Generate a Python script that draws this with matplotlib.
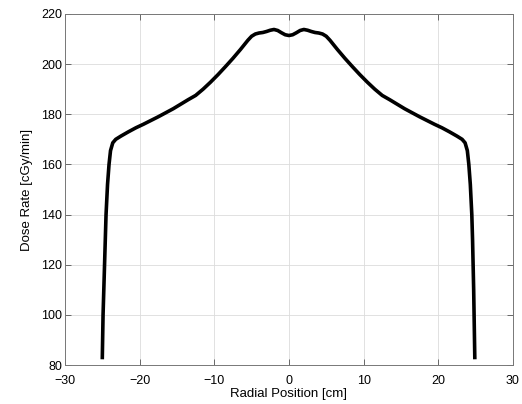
import matplotlib
matplotlib.use("Agg")
import matplotlib.pyplot as plt

plt.rcParams["font.family"] = ["Liberation Sans", "DejaVu Sans"]

# radial dose profile
radial_cm = [-25.0, -24.9, -24.7, -24.5, -24.3, -24.1, -23.9, -23.6, -23.2, -22.5,
             -21.5, -20.5, -19.5, -18.5, -17.5, -16.5, -15.5, -14.5, -13.5, -12.5,
             -11.5, -10.5, -9.5, -8.5, -7.5, -6.5, -5.5, -5.0, -4.5, -4.0,
             -3.5, -3.0, -2.5, -2.0, -1.5, -1.0, -0.5, 0.0,
             0.5, 1.0, 1.5, 2.0, 2.5, 3.0, 3.5, 4.0, 4.5, 5.0,
             5.5, 6.5, 7.5, 8.5, 9.5, 10.5, 11.5, 12.5, 13.5, 14.5,
             15.5, 16.5, 17.5, 18.5, 19.5, 20.5, 21.5, 22.5, 23.2, 23.6,
             23.9, 24.1, 24.3, 24.5, 24.6, 24.75, 24.9]
dose_rate = [83.0, 100.0, 120.0, 140.0, 152.0, 160.0, 165.5, 168.6, 170.0, 171.3,
             173.0, 174.6, 176.0, 177.5, 179.0, 180.6, 182.2, 184.0, 185.8, 187.5,
             190.0, 192.8, 195.8, 199.0, 202.3, 205.8, 209.5, 211.1, 212.0, 212.4,
             212.6, 213.0, 213.5, 213.8, 213.4, 212.5, 211.7, 211.4,
             211.7, 212.5, 213.4, 213.8, 213.5, 213.0, 212.6, 212.4, 212.0, 211.1,
             209.5, 205.8, 202.3, 199.0, 195.8, 192.8, 190.0, 187.5, 185.8, 184.0,
             182.2, 180.6, 179.0, 177.5, 176.0, 174.6, 173.0, 171.3, 170.0, 168.6,
             165.5, 160.0, 152.0, 140.0, 130.0, 110.0, 83.0]

x_ticks = [-30, -20, -10, 0, 10, 20, 30]
y_ticks = [80, 100, 120, 140, 160, 180, 200, 220]

fig = plt.figure(figsize=(5.22, 4.04), dpi=100)
ax = fig.add_axes([0.1245, 0.0965, 0.858, 0.869])

ax.plot(radial_cm, dose_rate, color="black", linewidth=2.6, solid_joinstyle="round")

ax.set_xlim(-30, 30)
ax.set_ylim(80, 220)
ax.set_xticks(x_ticks)
ax.set_yticks(y_ticks)
ax.grid(True, color="#dcdcdc", linewidth=0.6)
ax.set_axisbelow(True)

ax.tick_params(direction="in", top=True, right=True, length=4,
               labelsize=9, color="#555555", width=0.6)
ax.tick_params(axis="x", pad=7)
ax.tick_params(axis="y", pad=2)
for sp in ax.spines.values():
    sp.set_color("#777777")
    sp.set_linewidth(0.7)

ax.set_xlabel("Radial Position [cm]", fontsize=9.5, labelpad=1)
ax.set_ylabel("Dose Rate [cGy/min]", fontsize=9.5, labelpad=6)

fig.savefig("out.png", dpi=100)
